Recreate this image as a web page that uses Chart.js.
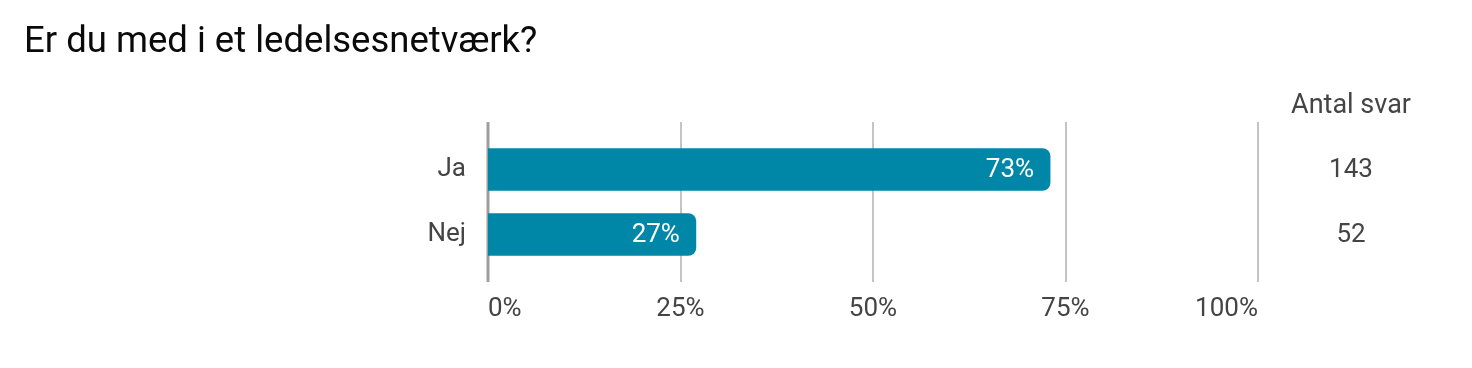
<!DOCTYPE html>
<html lang="da">
<head>
<meta charset="UTF-8">
<title>Er du med i et ledelsesnetværk?</title>
<script src="https://cdn.jsdelivr.net/npm/chart.js"></script>
<style>
  html, body { margin: 0; padding: 0; background: #fff; }
  #wrap { position: relative; width: 1472px; height: 368px; }
</style>
</head>
<body>
<div id="wrap"><canvas id="chart"></canvas></div>
<script>
const titleText = 'Er du med i et ledelsesnetværk?';
const categories = ['Ja', 'Nej'];
const percentages = [73, 27];
const counts = [143, 52];
const countHeader = 'Antal svar';
const tickValues = [0, 25, 50, 75, 100];

const FONT = 'Roboto, "Noto Sans", sans-serif';

// gridlines, reaching a bit above and below the bars
const gridPlugin = {
    id: 'gridLines',
    beforeDatasetsDraw(chart) {
        const { ctx, chartArea, scales } = chart;
        ctx.save();
        tickValues.forEach(v => {
            const x = Math.round(scales.x.getPixelForValue(v));
            ctx.beginPath();
            ctx.strokeStyle = v === 0 ? '#9e9e9e' : '#c4c4c4';
            ctx.lineWidth = v === 0 ? 3 : 2;
            ctx.moveTo(x, chartArea.top - 15);
            ctx.lineTo(x, chartArea.bottom + 15);
            ctx.stroke();
        });
        ctx.restore();
    }
};

// title, value labels and the count column
const textPlugin = {
    id: 'texts',
    afterDatasetsDraw(chart) {
        const { ctx, scales } = chart;
        ctx.save();
        ctx.fillStyle = '#0a0a0a';
        ctx.font = '36.5px ' + FONT;
        ctx.textAlign = 'left';
        ctx.textBaseline = 'middle';
        ctx.fillText(titleText, 24, 43);

        const meta = chart.getDatasetMeta(0);
        ctx.font = '26px ' + FONT;
        ctx.fillStyle = '#fff';
        ctx.textAlign = 'right';
        meta.data.forEach((bar, i) => {
            ctx.fillText(percentages[i] + '%', bar.x - 16, bar.y + 1);
        });

        ctx.fillStyle = '#444';
        ctx.textAlign = 'center';
        ctx.font = '27px ' + FONT;
        ctx.fillText(countHeader, 1351, 106);
        ctx.font = '26px ' + FONT;
        categories.forEach((c, i) => {
            ctx.fillText(String(counts[i]), 1351, scales.y.getPixelForValue(i) + 1);
        });
        ctx.restore();
    }
};

new Chart(document.getElementById('chart'), {
    type: 'bar',
    data: {
        labels: categories,
        datasets: [{
            data: percentages,
            backgroundColor: '#0087a8',
            borderWidth: 0,
            borderRadius: { topRight: 8, bottomRight: 8 },
            borderSkipped: 'start',
            barThickness: 42
        }]
    },
    options: {
        indexAxis: 'y',
        responsive: true,
        maintainAspectRatio: false,
        animation: false,
        layout: { padding: { left: 0, right: 214, top: 137, bottom: 0 } },
        plugins: {
            legend: { display: false },
            tooltip: { enabled: false }
        },
        scales: {
            x: {
                min: 0,
                max: 100,
                afterBuildTicks(scale) {
                    scale.ticks = tickValues.map(v => ({ value: v }));
                },
                afterFit(scale) { scale.height = 101; },
                grid: { display: false, drawTicks: false },
                border: { display: false },
                ticks: {
                    padding: 27,
                    align: 'inner',
                    color: '#444',
                    font: { family: FONT, size: 26 },
                    callback: v => v + '%'
                }
            },
            y: {
                afterFit(scale) { scale.width = 488; },
                grid: { display: false, drawTicks: false },
                border: { display: false },
                ticks: {
                    padding: 22,
                    color: '#444',
                    font: { family: FONT, size: 26 }
                }
            }
        }
    },
    plugins: [gridPlugin, textPlugin]
});
</script>
</body>
</html>
